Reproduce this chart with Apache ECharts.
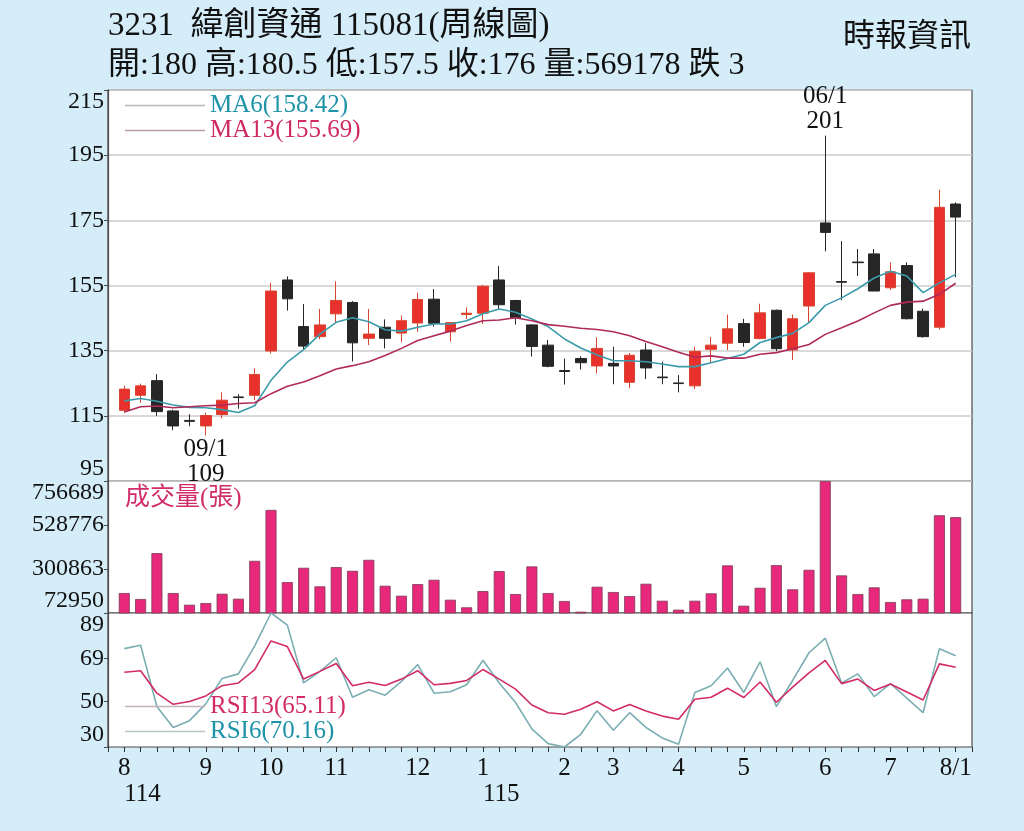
<!DOCTYPE html>
<html><head><meta charset="utf-8">
<script src="https://cdn.jsdelivr.net/npm/echarts@6/dist/echarts.min.js"></script>
<style>html,body{margin:0;padding:0;background:#d5edf9;}#c{width:1024px;height:831px;}</style>
</head><body><div id="c"></div>
<script>
const weeks = ['114/08/1','114/08/2','114/08/3','114/08/4','114/08/5','114/09/1','114/09/2','114/09/3','114/09/4','114/10/1','114/10/2','114/10/3','114/10/4','114/11/1','114/11/2','114/11/3','114/11/4','114/11/5','114/12/1','114/12/2','114/12/3','114/12/4','115/01/1','115/01/2','115/01/3','115/01/4','115/01/5','115/02/1','115/02/2','115/02/4','115/03/1','115/03/2','115/03/3','115/03/4','115/04/1','115/04/2','115/04/3','115/04/4','115/05/1','115/05/2','115/05/3','115/05/4','115/05/5','115/06/1','115/06/2','115/06/3','115/06/4','115/07/1','115/07/2','115/07/3','115/07/4','115/08/1'];
const opens  = [116.7,121.3,125.8,116.5,113.6,111.9,115.4,120.8,121.3,134.9,156.7,142.4,139.3,146.3,149.8,138.8,142.2,140.4,143.5,150.8,140.8,146.1,146.5,156.7,150.4,142.9,136.7,128.9,132.6,130.3,131.1,125.3,135.2,126.9,125.1,124.2,135.4,137.3,143.3,138.7,147.4,135.2,148.7,174.2,156.2,162.2,164.7,154.3,161.1,147.1,142.2,180];
const closes = [123.2,124.2,116.3,111.9,113.3,115.1,119.8,120.6,127.7,153.3,150.9,136.4,142.9,150.4,137.4,140.1,138.8,144.2,150.7,143.4,143.6,146.5,154.8,149.1,145.1,136.3,130.2,128.6,131.3,135.7,130.3,133.6,129.7,126.7,124.9,134.8,136.7,141.7,137.5,146.6,135.6,144.8,158.9,171.3,156.0,162.0,153.3,159.2,144.8,139.3,179,176];
const lows   = [115.9,119.0,115.0,110.6,111.8,109,114.2,117.2,119.8,134.1,147.3,135.5,138.5,143.7,131.7,136.7,135.7,137.6,140.8,142.4,137.8,144.7,143.2,147.8,143.0,133.2,129.9,124.6,129.2,128.0,124.7,123.5,126.3,124.7,122.2,123.2,131.3,135.2,136.2,138.5,134.9,132.1,143.6,165.5,150.5,157.9,153.3,153.6,144.6,139.0,141.5,157.5];
const highs  = [124.2,124.9,127.8,116.9,115.5,116.0,122.2,121.6,129.6,155.8,157.8,149.3,147.8,156.3,150.2,147.8,144.6,145.8,152.8,153.9,143.8,148.3,155.2,161.0,150.6,143.1,138.3,132.6,133.3,139.1,136.2,134.3,137.3,131.6,127.5,136.2,139.2,146.1,144.8,149.4,147.6,146.1,159.1,201,168.6,166.2,166.2,162.1,162.1,147.9,184.4,180.5];
const ma6  = [119.6,120.3,119.5,118.3,117.6,117.5,116.9,116.0,118.1,125.9,131.5,135.3,140.1,143.7,145.1,143.9,141.4,141.0,142.2,143.2,143.2,144.2,146.3,147.8,146.8,144.7,142.4,138.6,135.8,133.7,131.9,131.9,131.6,130.9,130.1,130.1,131.3,132.6,133.9,137.5,139.0,140.3,143.6,148.9,151.2,154.0,157.3,159.4,157.9,152.8,155.8,158.42];
const ma13 = [116.2,117.8,118.0,117.5,117.8,118.1,118.3,118.8,119.0,121.8,124.1,125.4,127.3,129.4,130.4,131.6,133.5,135.7,138.1,139.6,141.0,142.7,144.2,144.4,145.1,144.2,143.0,142.5,141.9,141.5,140.8,139.6,137.8,136.2,134.5,133.0,133.4,132.7,132.7,133.9,134.4,135.6,136.9,140.0,142.0,144.1,146.6,148.9,149.9,150.2,152.3,155.69];
const volumes = [176300,145300,383000,176300,115800,124600,172700,146900,343200,606800,233200,307100,210900,310700,291600,348400,214000,162400,222800,245000,141700,102400,186600,290000,171100,314300,176300,135000,79700,208900,181500,160800,224400,136500,90000,136500,174800,319500,110700,203700,321000,195400,296700,756689,267800,171100,205800,129800,143800,146900,579400,569178];
const rsi6  = [73.3,74.8,47.8,38.6,41.6,49.0,60.2,62.2,74.5,89.0,83.7,58.2,63.3,69.3,51.9,55.2,52.8,58.9,66.3,53.7,54.3,57.4,68.2,58.2,49.6,38.0,31.5,30.0,35.6,46.0,37.4,45.1,38.6,34.0,31.2,54.0,57.0,64.8,54.0,67.5,47.8,59.3,71.5,77.9,58.2,62.2,52.2,57.9,51.5,45.1,73.3,70.16];
const rsi13 = [62.9,63.6,53.7,48.8,50.0,52.5,57.0,58.2,64.1,76.7,74.2,59.9,63.3,66.8,57.0,58.5,57.1,59.9,63.6,57.4,58.0,59.3,64.1,59.9,55.5,48.5,45.1,44.4,46.6,49.9,45.9,48.7,45.9,43.6,42.2,51.0,51.9,55.9,51.8,58.6,49.7,56.4,62.6,68.1,57.9,59.9,54.9,57.7,54.2,50.7,66.6,65.11];
const priceTicks = [95,115,135,155,175,195,215];
const volumeTicks = [72950,300863,528776,756689];
const rsiTicks = [30,50,69,89];
const stockTitle = '3231  緯創資通 115081(周線圖)';
const sourceText = '時報資訊';
const volumeTitle = '成交量(張)';

const FONT = "'Liberation Serif','Noto Sans CJK TC',serif";
const N = weeks.length;
const last = a => a[a.length - 1];
const monthLabel = {}, yearLabel = {};
weeks.forEach((w, i) => {
  const [y, m, k] = w.split('/');
  if (i === N - 1) monthLabel[w] = (+m) + '/' + k;
  else if (k === '1') monthLabel[w] = String(+m);
  if (i === 0 || (m === '01' && k === '1')) yearLabel[w] = y;
});
const shortWeek = w => { const p = w.split('/'); return p[1] + '/' + p[2]; };
const hiIdx = highs.indexOf(Math.max(...highs));
const loIdx = lows.indexOf(Math.min(...lows));
const chg = +(closes[N-1] - closes[N-2]).toFixed(2);
const infoLine = '開:' + opens[N-1] + ' 高:' + highs[N-1] + ' 低:' + lows[N-1] + ' 收:' + closes[N-1] +
  ' 量:' + volumes[N-1] + ' ' + (chg < 0 ? '跌 ' : '漲 ') + Math.abs(chg);
const lastVals = {MA6: last(ma6), MA13: last(ma13), RSI6: last(rsi6), RSI13: last(rsi13)};

const GL = 108, GW = 864;
const grids = [
  {left: GL, width: GW, top: 90, height: 391},
  {left: GL, width: GW, top: 481, height: 132},
  {left: GL, width: GW, top: 613, height: 134}
].map(g => Object.assign(g, {show: true, backgroundColor: '#fff', borderColor: '#4a4a4a', borderWidth: 1.2}));

const xBase = gi => ({type: 'category', gridIndex: gi, position: 'bottom', data: weeks, min: -1, max: N, boundaryGap: false,
  axisLine: {show: false}, axisTick: {show: false}, axisLabel: {show: false}, splitLine: {show: false}});
const x2 = xBase(2);
x2.axisTick = {show: true, interval: 0, length: 5, lineStyle: {color: '#333', width: 1}};
x2.axisLabel = {show: true, interval: 0, margin: 9, color: '#111', fontSize: 25, fontFamily: FONT,
  formatter: v => monthLabel[v] || ''};
const x3 = xBase(2);
x3.axisLabel = {show: true, interval: 0, margin: 35, color: '#111', fontSize: 25, fontFamily: FONT, align: 'left',
  formatter: v => yearLabel[v] || ''};

const yBase = (gi, min, max, ticks, split) => ({type: 'value', gridIndex: gi, min: min, max: max,
  axisLine: {show: true, lineStyle: {color: '#4a4a4a', width: 1.2}},
  axisTick: {show: true, length: 4, customValues: ticks, lineStyle: {color: '#4a4a4a'}},
  axisLabel: {customValues: ticks, margin: 4, color: '#111', fontSize: 24, fontFamily: FONT,
    formatter: v => String(v),
    verticalAlignMinLabel: 'bottom', verticalAlignMaxLabel: 'top'},
  splitLine: {show: split, lineStyle: {color: '#cdcdcd', width: 1.5}}});

const lbl = {color: '#111', fontSize: 25, fontFamily: FONT, lineHeight: 25};
const option = {
  animation: false,
  backgroundColor: '#d5edf9',
  textStyle: {fontFamily: FONT},
  grid: grids,
  xAxis: [xBase(0), xBase(1), x2, x3],
  yAxis: [yBase(0, 95, 215, priceTicks, true), yBase(1, volumeTicks[0], last(volumeTicks), volumeTicks, false),
          yBase(2, rsiTicks[0], last(rsiTicks), rsiTicks, false)],
  legend: [
    {selectedMode: false, orient: 'vertical', left: 125, top: 93, padding: 0, itemGap: 0, icon: 'rect',
     itemWidth: 80, itemHeight: 1.5, formatter: n => n + '(' + lastVals[n].toFixed(2) + ')',
     textStyle: {fontSize: 25, fontFamily: FONT},
     data: [{name: 'MA6', itemStyle: {color: '#b8b8b8'}, textStyle: {color: '#1d93a8'}},
            {name: 'MA13', itemStyle: {color: '#b99aa7'}, textStyle: {color: '#cf2a62'}}]},
    {selectedMode: false, orient: 'vertical', left: 125, top: 694, padding: 0, itemGap: 0, icon: 'rect',
     itemWidth: 80, itemHeight: 1.5, formatter: n => n + '(' + lastVals[n].toFixed(2) + ')',
     textStyle: {fontSize: 25, fontFamily: FONT},
     data: [{name: 'RSI13', itemStyle: {color: '#c4b4ba'}, textStyle: {color: '#d22c68'}},
            {name: 'RSI6', itemStyle: {color: '#b8c4c6'}, textStyle: {color: '#1d93a8'}}]}
  ],
  graphic: [
    {type: 'text', left: 108, top: 10, style: {text: stockTitle, font: '33px ' + FONT, fill: '#111'}},
    {type: 'text', left: 108, top: 50, style: {text: infoLine, font: '32px ' + FONT, fill: '#111'}},
    {type: 'text', right: 53, top: 22, style: {text: sourceText, font: '32px ' + FONT, fill: '#111'}},
    {type: 'text', left: 125, top: 486, z: 10, style: {text: volumeTitle, font: '25px ' + FONT, fill: '#d22c68'}}
  ],
  series: [
    {type: 'candlestick', name: 'K', xAxisIndex: 0, yAxisIndex: 0, barWidth: 11,
     data: weeks.map((w, i) => [opens[i], closes[i], lows[i], highs[i]]),
     itemStyle: {color: '#e8302c', color0: '#262626', borderColor: '#d8452e', borderColor0: '#262626', borderWidth: 1},
     markPoint: {symbol: 'circle', symbolSize: 0, silent: true, label: lbl,
       data: [
         {coord: [weeks[hiIdx], highs[hiIdx]], label: Object.assign({}, lbl, {position: 'top', distance: 2,
           formatter: shortWeek(weeks[hiIdx]) + '\n' + highs[hiIdx]})},
         {coord: [weeks[loIdx], lows[loIdx]], label: Object.assign({}, lbl, {position: 'bottom', distance: 2,
           formatter: shortWeek(weeks[loIdx]) + '\n' + lows[loIdx]})}
       ]}},
    {type: 'line', name: 'MA6', xAxisIndex: 0, yAxisIndex: 0, data: ma6, symbol: 'none', color: '#3b9bab',
     lineStyle: {width: 1.6, color: '#3b9bab'}},
    {type: 'line', name: 'MA13', xAxisIndex: 0, yAxisIndex: 0, data: ma13, symbol: 'none', color: '#b02a5c',
     lineStyle: {width: 1.6, color: '#b02a5c'}},
    {type: 'bar', name: 'VOL', xAxisIndex: 1, yAxisIndex: 1, data: volumes, barWidth: 11,
     itemStyle: {color: '#e8287a', borderColor: '#7d3b58', borderWidth: 0.8}},
    {type: 'line', name: 'RSI6', xAxisIndex: 2, yAxisIndex: 2, data: rsi6, symbol: 'none', color: '#7aaeb2',
     lineStyle: {width: 1.6, color: '#7aaeb2'}},
    {type: 'line', name: 'RSI13', xAxisIndex: 2, yAxisIndex: 2, data: rsi13, symbol: 'none', color: '#d22c68',
     lineStyle: {width: 1.6, color: '#d22c68'}}
  ]
};
const chart = echarts.init(document.getElementById('c'), null, {renderer: 'canvas'});
chart.setOption(option);
</script></body></html>
